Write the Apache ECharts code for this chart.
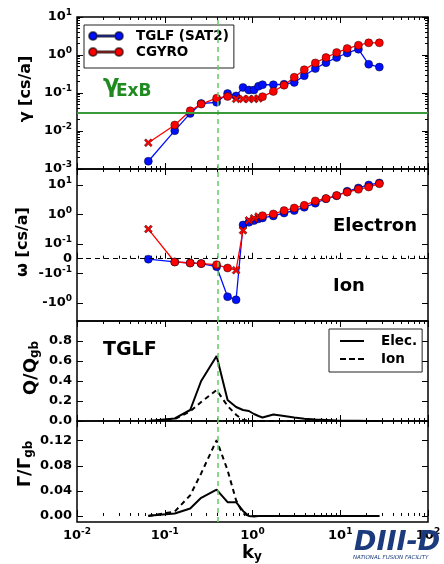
<!DOCTYPE html>
<html>
<head>
<meta charset="utf-8" />
<title>TGLF vs CGYRO spectra</title>
<script src="https://cdn.jsdelivr.net/npm/echarts@6/dist/echarts.min.js"></script>
<style>
  html, body { margin: 0; padding: 0; background: #fff; }
  #chart { width: 444px; height: 564px; }
</style>
</head>
<body>
<div id="chart"></div>
<script>
// ky grid (shared by all panels)
var ky = [0.065, 0.13, 0.195, 0.26, 0.39, 0.52, 0.65, 0.78, 0.91, 1.04, 1.17, 1.3,
          1.73, 2.29, 2.99, 3.89, 5.2, 6.88, 9.1, 12.0, 16.1, 21.1, 27.9];

// growth rate gamma [cs/a]
var gammaTglf  = [0.0016, 0.0102, 0.029, 0.053, 0.057, 0.097, 0.084, 0.14, 0.12, 0.12, 0.15, 0.165,
                  0.165, 0.17, 0.19, 0.285, 0.44, 0.63, 0.86, 1.13, 1.42, 0.57, 0.48];
var gammaCgyro = [0.0049, 0.0144, 0.034, 0.051, 0.073, 0.081, 0.070, 0.070, 0.070, 0.070, 0.072, 0.080,
                  0.11, 0.16, 0.26, 0.41, 0.62, 0.86, 1.16, 1.48, 1.81, 2.09, 2.09];

// frequency omega [cs/a]
var omegaTglf  = [-0.003, -0.022, -0.029, -0.033, -0.054, -0.61, -0.78, 0.44, 0.54, 0.62, 0.71, 0.76,
                  0.89, 1.12, 1.35, 1.74, 2.4, 3.4, 4.3, 6.1, 7.9, 10, 11.7];
var omegaCgyro = [0.32, -0.022, -0.029, -0.033, -0.040, -0.063, -0.078, 0.29, 0.63, 0.74, 0.85, 0.91,
                  1.04, 1.35, 1.66, 2.04, 2.88, 3.47, 4.4, 5.7, 7.1, 8.5, 11];

// CGYRO points drawn with an x marker
var cgyroCross = [0, 6, 7, 8, 9, 10];

// TGLF energy flux Q/Qgb
var qElec = [0.0, 0.026, 0.11, 0.40, 0.65, 0.21, 0.14, 0.11, 0.10, 0.07, 0.05, 0.035,
             0.065, 0.05, 0.035, 0.022, 0.014, 0.01, 0.006, 0.003, 0.002, 0.001, 0.0];
var qIon  = [0.0, 0.02, 0.096, 0.19, 0.31, 0.15, 0.063, 0.01, 0.002, 0, 0, 0,
             0, 0, 0, 0, 0, 0, 0, 0, 0, 0, 0];

// TGLF particle flux Gamma/Gamma_gb
var pElec = [0.0005, 0.004, 0.012, 0.029, 0.042, 0.022, 0.022, 0.008, 0.0, -0.001, 0, 0,
             0, 0, 0, 0, 0, 0, 0, 0, 0, 0, 0];
var pIon  = [0.0, 0.007, 0.033, 0.068, 0.121, 0.073, 0.025, 0.004, 0.0, 0, 0, 0,
             0, 0, 0, 0, 0, 0, 0, 0, 0, 0, 0];

var kyMark = 0.395;     // green dashed vertical
var gammaExB = 0.0304;  // green horizontal

// symlog tick positions (linthresh 0.1) and their labels
var omegaTicks  = [-1, -0.1, 0, 0.1, 1, 10];
var omegaLabels = ['-10^0', '-10^-1', '0', '10^-1', '10^0', '10^1'];
var qTicks = [0, 0.2, 0.4, 0.6, 0.8];
var pTicks = [0, 0.04, 0.08, 0.12];

var FONT = 'DejaVu Sans';
var BLUE = '#0010ff', RED = '#ff0000';
var GREEN_DASH = '#66cc66', GREEN = '#3a9a3a';

function symlog(v) {
  var a = Math.abs(v), s = v < 0 ? -1 : 1;
  return s * (a < 0.1 ? a / 0.1 * 0.5 : 0.5 + Math.log10(a / 0.1));
}

function minorLog(lo, hi) {
  var out = [];
  for (var e = lo; e < hi; e++) {
    for (var m = 2; m <= 9; m++) out.push(m * Math.pow(10, e));
  }
  return out;
}

var rich = {
  b: { fontSize: 13, fontWeight: 'bold', fontFamily: FONT, color: '#000' },
  s: { fontSize: 9, fontWeight: 'bold', fontFamily: FONT, color: '#000', padding: [0, 0, 8, 0] }
};
function powLabel(txt) {
  // '10^-1' -> rich text with superscript
  var m = txt.match(/^(-?)10\^(-?\d+)$/);
  if (!m) return '{b|' + txt + '}';
  return '{b|' + m[1] + '10}{s|' + m[2] + '}';
}
function logFmt(v) {
  return powLabel('10^' + Math.round(Math.log10(v)));
}

var crossPath = 'path://M2,0 L5,3 L8,0 L10,2 L7,5 L10,8 L8,10 L5,7 L2,10 L0,8 L3,5 L0,2 Z';

function pts(ys, tf) {
  return ky.map(function (k, i) { return [k, tf ? tf(ys[i]) : ys[i]]; });
}
function ptsCross(ys, tf) {
  return ky.map(function (k, i) {
    var d = { value: [k, tf ? tf(ys[i]) : ys[i]] };
    if (cgyroCross.indexOf(i) >= 0) { d.symbol = crossPath; d.symbolSize = 8; }
    return d;
  });
}

var tops = [17, 169, 321, 421];
var heights = [152, 152, 100, 101];
var grids = tops.map(function (t, i) {
  return { left: 77, right: 16, top: t, height: heights[i], show: true,
           borderColor: '#000', borderWidth: 1.5, backgroundColor: 'transparent' };
});

var xAxes = [];
var yAxes = [];
var tickLine = { color: '#000', width: 1 };
for (var g = 0; g < 4; g++) {
  ['bottom', 'top'].forEach(function (pos) {
    var main = pos === 'bottom';
    xAxes.push({
      type: 'log', logBase: 10, min: 0.01, max: 100, gridIndex: g, position: pos,
      axisLine: { show: false }, splitLine: { show: false },
      axisTick: { show: true, inside: true, length: 6, lineStyle: tickLine },
      axisLabel: (g === 3 && main) ? { show: true, margin: 5, formatter: logFmt, rich: rich } : { show: false }
    });
    xAxes.push({
      type: 'log', logBase: 10, min: 0.01, max: 100, gridIndex: g, position: pos,
      axisLine: { show: false }, splitLine: { show: false }, axisLabel: { show: false },
      axisTick: { show: true, inside: true, length: 3, customValues: minorLog(-2, 2), lineStyle: tickLine }
    });
  });
}
// main bottom x axis of grid g has index g*4

function yPair(g, base) {
  ['left', 'right'].forEach(function (pos) {
    var a = JSON.parse(JSON.stringify(base.axis));
    a.gridIndex = g; a.position = pos;
    a.axisLine = { show: false }; a.splitLine = { show: false };
    a.axisTick = { show: true, inside: true, length: 6, lineStyle: tickLine };
    if (base.ticks) a.axisTick.customValues = base.ticks;
    if (pos === 'left') {
      a.axisLabel = { show: true, margin: 5, formatter: base.fmt, rich: rich };
      if (base.ticks) a.axisLabel.customValues = base.ticks;
    } else {
      a.axisLabel = { show: false };
    }
    yAxes.push(a);
    if (base.minor) {
      yAxes.push({
        type: base.axis.type, min: base.axis.min, max: base.axis.max, gridIndex: g, position: pos,
        axisLine: { show: false }, splitLine: { show: false }, axisLabel: { show: false },
        axisTick: { show: true, inside: true, length: 3, customValues: base.minor, lineStyle: tickLine }
      });
    }
  });
}
// grid 0: log gamma -> y indices 0..3
yPair(0, { axis: { type: 'log', logBase: 10, min: 0.001, max: 10 }, fmt: logFmt, minor: minorLog(-3, 1) });
// grid 1: symlog omega -> y indices 4,5
var omegaPos = omegaTicks.map(symlog);
yPair(1, { axis: { type: 'value', min: -2.11, max: 3.04 }, ticks: omegaPos,
  fmt: function (v) {
    for (var i = 0; i < omegaPos.length; i++) if (Math.abs(omegaPos[i] - v) < 1e-6) return powLabel(omegaLabels[i]);
    return '';
  } });
// grid 2: Q -> y indices 6,7
yPair(2, { axis: { type: 'value', min: 0, max: 1.0 }, ticks: qTicks,
  fmt: function (v) { return '{b|' + v.toFixed(1) + '}'; } });
// grid 3: Gamma -> y indices 8,9
yPair(3, { axis: { type: 'value', min: -0.0096, max: 0.1515 }, ticks: pTicks,
  fmt: function (v) { return '{b|' + v.toFixed(2) + '}'; } });

var vMark = { xAxis: kyMark, lineStyle: { color: GREEN_DASH, type: [5, 4], width: 1.5 } };
function mark(extra) {
  return { silent: true, symbol: 'none', label: { show: false }, animation: false,
           data: [vMark].concat(extra || []) };
}

var markerStyle = function (c) {
  return { color: c, borderColor: 'rgba(0,0,0,0.55)', borderWidth: 0.8 };
};

var series = [
  { name: 'TGLF (SAT2)', type: 'line', xAxisIndex: 0, yAxisIndex: 0, data: pts(gammaTglf),
    symbol: 'circle', symbolSize: 8, lineStyle: { color: BLUE, width: 1.3 }, itemStyle: markerStyle(BLUE),
    markLine: mark([{ yAxis: gammaExB, lineStyle: { color: GREEN, type: 'solid', width: 2 } }]) },
  { name: 'CGYRO', type: 'line', xAxisIndex: 0, yAxisIndex: 0, data: ptsCross(gammaCgyro),
    symbol: 'circle', symbolSize: 8, lineStyle: { color: RED, width: 1.3 }, itemStyle: markerStyle(RED) },

  { name: 'TGLF ω', type: 'line', xAxisIndex: 4, yAxisIndex: 4, data: pts(omegaTglf, symlog),
    symbol: 'circle', symbolSize: 8, lineStyle: { color: BLUE, width: 1.3 }, itemStyle: markerStyle(BLUE),
    markLine: mark([{ yAxis: 0, lineStyle: { color: '#000', type: [5, 4], width: 1.2 } }]) },
  { name: 'CGYRO ω', type: 'line', xAxisIndex: 4, yAxisIndex: 4, data: ptsCross(omegaCgyro, symlog),
    symbol: 'circle', symbolSize: 8, lineStyle: { color: RED, width: 1.3 }, itemStyle: markerStyle(RED) },

  { name: 'Elec.', type: 'line', xAxisIndex: 8, yAxisIndex: 6, data: pts(qElec),
    symbol: 'none', lineStyle: { color: '#000', width: 2 }, itemStyle: { color: '#000' }, markLine: mark() },
  { name: 'Ion', type: 'line', xAxisIndex: 8, yAxisIndex: 6, data: pts(qIon),
    symbol: 'none', lineStyle: { color: '#000', width: 2, type: [5, 4] }, itemStyle: { color: '#000' } },

  { name: 'Elec. Γ', type: 'line', xAxisIndex: 12, yAxisIndex: 8, data: pts(pElec),
    symbol: 'none', lineStyle: { color: '#000', width: 2 }, markLine: mark() },
  { name: 'Ion Γ', type: 'line', xAxisIndex: 12, yAxisIndex: 8, data: pts(pIon),
    symbol: 'none', lineStyle: { color: '#000', width: 2, type: [5, 4] } }
];

var legendIcon = 'path://M0,4 A4,4 0 1,0 8,4 A4,4 0 1,0 0,4 Z M26,4 A4,4 0 1,0 34,4 A4,4 0 1,0 26,4 Z M8,3.3 L26,3.3 L26,4.7 L8,4.7 Z';
var solidIcon = 'path://M0,0 L24,0 L24,2 L0,2 Z';
var dashIcon = 'path://M0,0 L6,0 L6,2 L0,2 Z M9,0 L15,0 L15,2 L9,2 Z M18,0 L24,0 L24,2 L18,2 Z';

var legTxt = function (fs, padL) {
  return { fontFamily: FONT, fontWeight: 'bold', fontSize: fs, color: '#000', padding: [0, 0, 0, padL] };
};

var chart = echarts.init(document.getElementById('chart'), null, { renderer: 'canvas' });
chart.setOption({
  animation: false,
  backgroundColor: '#fff',
  grid: grids,
  xAxis: xAxes,
  yAxis: yAxes,
  series: series,
  legend: [
    { left: 84, top: 25, orient: 'vertical', itemWidth: 34, itemHeight: 8, itemGap: 0,
      padding: [3, 5, 8, 4], borderColor: '#222', borderWidth: 1, backgroundColor: '#fff',
      selectedMode: false, textStyle: Object.assign(legTxt(13.5, 8), { lineHeight: 16 }),
      data: [{ name: 'TGLF (SAT2)', icon: legendIcon, itemStyle: { color: BLUE } },
             { name: 'CGYRO', icon: legendIcon, itemStyle: { color: RED } }] },
    { left: 329, top: 329, orient: 'vertical', itemWidth: 24, itemHeight: 2, itemGap: 0,
      padding: [3, 5, 4, 11], borderColor: '#222', borderWidth: 1, backgroundColor: '#fff',
      selectedMode: false, textStyle: Object.assign(legTxt(13.5, 12), { lineHeight: 18 }),
      data: [{ name: 'Elec.', icon: solidIcon, itemStyle: { color: '#000' } },
             { name: 'Ion', icon: dashIcon, itemStyle: { color: '#000' } }] }
  ],
  graphic: [
    // y axis titles
    { type: 'text', x: 26, y: 89, rotation: Math.PI / 2,
      style: { text: 'γ [cs/a]', font: 'bold 16px ' + FONT, fill: '#000', align: 'center', verticalAlign: 'middle' } },
    { type: 'text', x: 23, y: 242, rotation: Math.PI / 2,
      style: { text: 'ω [cs/a]', font: 'bold 16px ' + FONT, fill: '#000', align: 'center', verticalAlign: 'middle' } },
    { type: 'text', x: 31, y: 368, rotation: Math.PI / 2,
      style: { text: '{n|Q/Q}{u|gb}', align: 'center', verticalAlign: 'middle',
        rich: { n: { font: 'bold 18px ' + FONT, fill: '#000' },
                u: { font: 'bold 12px ' + FONT, fill: '#000', padding: [8, 0, 0, 0] } } } },
    { type: 'text', x: 25, y: 464, rotation: Math.PI / 2,
      style: { text: '{n|Γ/Γ}{u|gb}', align: 'center', verticalAlign: 'middle',
        rich: { n: { font: 'bold 18px ' + FONT, fill: '#000' },
                u: { font: 'bold 12px ' + FONT, fill: '#000', padding: [8, 0, 0, 0] } } } },
    // x axis title
    { type: 'text', x: 252, y: 553,
      style: { text: '{n|k}{u|y}', align: 'center', verticalAlign: 'middle',
        rich: { n: { font: 'bold 18px ' + FONT, fill: '#000' },
                u: { font: 'bold 12px ' + FONT, fill: '#000', padding: [8, 0, 0, 0] } } } },
    // annotations
    { type: 'text', x: 103, y: 86,
      style: { text: 'γ', font: 'bold 24px ' + FONT, fill: '#1f8a1f', align: 'left', verticalAlign: 'middle' } },
    { type: 'text', x: 116, y: 92,
      style: { text: 'ExB', font: 'bold 17px ' + FONT, fill: '#1f8a1f', align: 'left', verticalAlign: 'middle' } },
    { type: 'text', x: 333, y: 226,
      style: { text: 'Electron', font: 'bold 18px ' + FONT, fill: '#000', align: 'left', verticalAlign: 'middle' } },
    { type: 'text', x: 333, y: 286,
      style: { text: 'Ion', font: 'bold 18px ' + FONT, fill: '#000', align: 'left', verticalAlign: 'middle' } },
    { type: 'text', x: 103, y: 350,
      style: { text: 'TGLF', font: 'bold 19px ' + FONT, fill: '#000', align: 'left', verticalAlign: 'middle' } },
    // logo
    { type: 'text', x: 354, y: 543, z: 10,
      style: { text: 'DIII-D', font: 'italic bold 27px ' + FONT, fill: '#1b3b7d', align: 'left', verticalAlign: 'middle' } },
    { type: 'text', x: 353, y: 558, z: 10,
      style: { text: 'NATIONAL FUSION FACILITY', font: 'italic 5.5px ' + FONT, fill: '#1b3b7d', align: 'left', verticalAlign: 'middle' } }
  ]
});
window.onresize = function () { chart.resize(); };
</script>
</body>
</html>
